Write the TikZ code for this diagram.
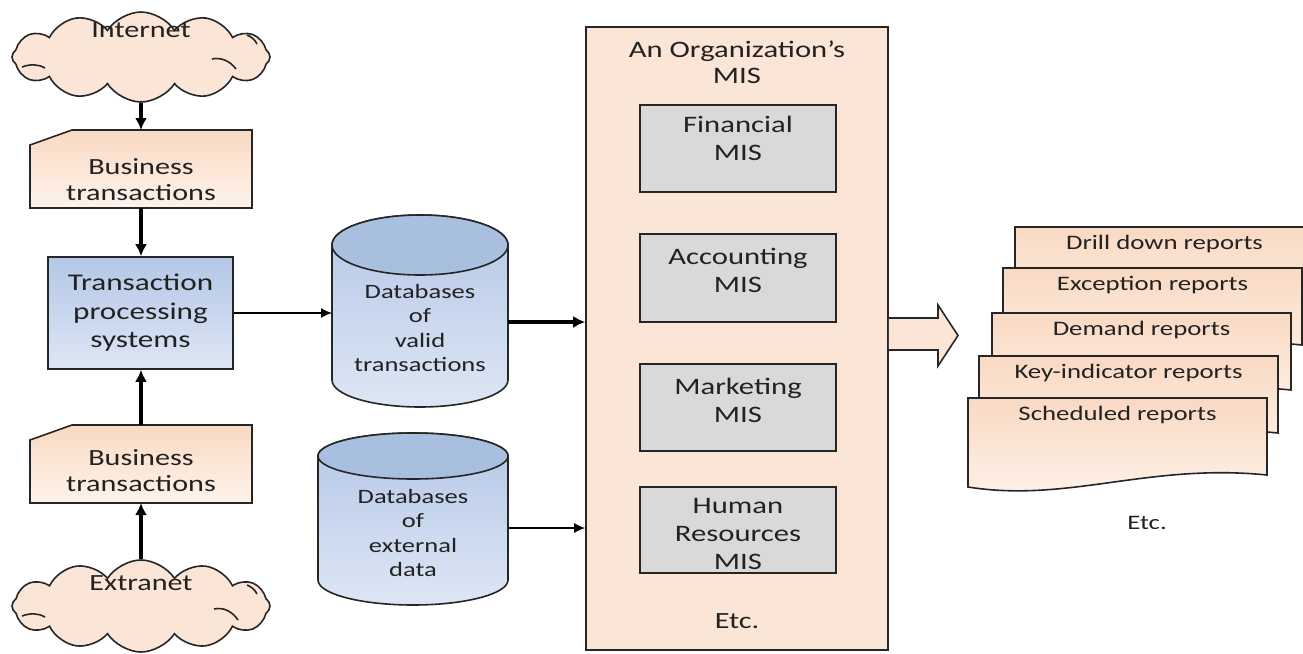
\documentclass[tikz,border=0pt]{standalone}
\usepackage{fontspec}
\setmainfont{Carlito}[FakeStretch=1.3]
\usetikzlibrary{shapes.symbols,arrows.meta,calc}
\definecolor{peach}{HTML}{FBE5D6}
\definecolor{peachd}{HTML}{F9D9C2}
\definecolor{peachl}{HTML}{FEF3EB}
\definecolor{blued}{HTML}{B4C7E7}
\definecolor{bluel}{HTML}{DDE6F4}
\definecolor{bluetop}{HTML}{A9BFDF}
\definecolor{grayb}{HTML}{D9D9D9}
\definecolor{ln}{HTML}{262626}
\definecolor{tx}{HTML}{222222}
\tikzset{
  txt/.style={align=center, inner sep=0pt, text=tx, font=\fontsize{11.6}{13}\selectfont},
  mtxt/.style={align=center, inner sep=0pt, text=tx, font=\fontsize{11.8}{14}\selectfont},
  dtxt/.style={align=center, inner sep=0pt, text=tx, font=\fontsize{10.2}{12.1}\selectfont},
  rtxt/.style={inner sep=0pt, text=tx, font=\fontsize{10.3}{12}\selectfont},
  cloudsh/.style={cloud, cloud puffs=12, cloud puff arc=115, aspect=2.8, draw=ln, line width=0.8pt, fill=peach, inner sep=0pt},
  cloudarc/.style={draw=ln, line width=0.8pt},
  cardsty/.style={draw=ln, line width=0.8pt, top color=peachd, bottom color=peachl},
  boxsty/.style={draw=ln, line width=0.8pt},
  thickarrow/.style={line width=1.8pt, draw=black, -{Latex[length=6pt,width=6pt]}},
  thinarrow/.style={line width=0.7pt, draw=black, -{Latex[length=5.5pt,width=5pt]}},
  repsty/.style={draw=ln, line width=0.8pt, top color=peachd, bottom color=peachl},
  ghost/.style={inner sep=0pt, outer sep=0pt}
}
\newcommand\reportdoc[4]{%
  \path[repsty] (#2,-#3) -- ({#2+299},-#3) -- ({#2+299},{-#3-77})
    .. controls ({#2+180},{-#3-65}) and ({#2+100},{-#3-105}) .. ({#2},{-#3-89}) -- cycle;
  \node[rtxt] (#1) at ({#2+149.5},{-#3-17.5}) {#4};}
\begin{document}
\begin{tikzpicture}[x=0.5pt,y=0.5pt]
\useasboundingbox (0,0) rectangle (1303,-654);
\fill[white] (0,0) rectangle (1303,-654);

% clouds
\node[cloudsh, minimum width=129pt, minimum height=45pt] (inet) at (141,-57) {};
\draw[cloudarc] (22,-67) .. controls (30,-64) and (38,-64) .. (45,-68);
\draw[cloudarc] (212,-59) .. controls (221,-57) and (230,-61) .. (236,-69);
\draw[cloudarc] (247,-35) .. controls (252,-37) and (255,-40) .. (257,-44);
\node[txt] (inett) at (141,-30) {Internet};
\node[cloudsh, minimum width=129pt, minimum height=46pt] (ext) at (141,-606) {};
\draw[cloudarc] (22,-616) .. controls (30,-613) and (38,-613) .. (45,-617);
\draw[cloudarc] (214,-609) .. controls (223,-607) and (232,-611) .. (238,-620);
\draw[cloudarc] (247,-585) .. controls (252,-587) and (255,-590) .. (257,-594);
\node[txt] (extt) at (141,-583) {Extranet};

% business transactions cards
\node[ghost, minimum width=111pt, minimum height=39pt] (bt1) at (141,-169) {};
\path[cardsty] (bt1.south west) -- ([yshift=-7.5pt]bt1.north west) -- ([xshift=21pt]bt1.north west) -- (bt1.north east) -- (bt1.south east) -- cycle;
\node[txt] (bt1t) at (141,-180) {Business\\transactions};
\node[ghost, minimum width=111pt, minimum height=39pt] (bt2) at (141,-464) {};
\path[cardsty] (bt2.south west) -- ([yshift=-7.5pt]bt2.north west) -- ([xshift=21pt]bt2.north west) -- (bt2.north east) -- (bt2.south east) -- cycle;
\node[txt] (bt2t) at (141,-471) {Business\\transactions};

% TPS
\node[boxsty, top color=blued, bottom color=bluel, minimum width=92.5pt, minimum height=56pt, inner sep=0pt, align=center, text=tx, font=\fontsize{12}{14.25}\selectfont] (tps) at (140.5,-313) {Transaction\\processing\\systems};

% databases
\node[ghost, minimum width=88pt, minimum height=96pt] (db1) at (420,-311) {};
\path[draw=ln, line width=0.8pt, top color=blued, bottom color=bluel] (332,-245) -- (332,-380) arc[start angle=180, end angle=360, x radius=44pt, y radius=13.5pt] -- (508,-245) arc[start angle=0, end angle=180, x radius=44pt, y radius=15pt] -- cycle;
\draw[ln, line width=0.8pt, fill=bluetop] (420,-245) ellipse[x radius=44pt, y radius=15pt];
\node[dtxt] (db1t) at (420,-328) {Databases\\of\\valid\\transactions};

\node[ghost, minimum width=95pt, minimum height=86pt] (db2) at (413,-519) {};
\path[draw=ln, line width=0.8pt, top color=blued, bottom color=bluel] (318,-456) -- (318,-580) arc[start angle=180, end angle=360, x radius=47.5pt, y radius=12.5pt] -- (508,-456) arc[start angle=0, end angle=180, x radius=47.5pt, y radius=11.5pt] -- cycle;
\draw[ln, line width=0.8pt, fill=bluetop] (413,-456) ellipse[x radius=47.5pt, y radius=11.5pt];
\node[dtxt] (db2t) at (413,-533) {Databases\\of\\external\\data};

% MIS
\node[boxsty, fill=peach, minimum width=151pt, minimum height=311.5pt, inner sep=0pt] (mis) at (737,-338.5) {};
\node[mtxt, font=\fontsize{11.8}{13}\selectfont] (mist) at (737,-62) {An Organization’s\\MIS};
\node[boxsty, fill=grayb, minimum width=98pt, minimum height=43.5pt] (fin) at (738,-148.5) {};
\node[mtxt] (fint) at (738,-138.5) {Financial\\MIS};
\node[boxsty, fill=grayb, minimum width=98pt, minimum height=44pt] (acc) at (738,-278) {};
\node[mtxt] (acct) at (738,-270) {Accounting\\MIS};
\node[boxsty, fill=grayb, minimum width=98pt, minimum height=43.5pt] (mkt) at (738,-407.5) {};
\node[mtxt] (mktt) at (738,-400) {Marketing\\MIS};
\node[boxsty, fill=grayb, minimum width=98pt, minimum height=43pt] (hr) at (738,-530) {};
\node[mtxt] (hrt) at (738,-534) {Human\\Resources\\MIS};
\node[txt] (misetc) at (737,-621) {Etc.};

% connectors
\draw[thickarrow] (inet.south) -- (inet.south |- bt1.north);
\draw[thickarrow] (bt1.south) -- (bt1.south |- tps.north);
\draw[thickarrow] (bt2.north) -- (bt2.north |- tps.south);
\draw[thickarrow] (ext.north) -- (ext.north |- bt2.south);
\draw[thinarrow] (tps.east) -- (tps.east -| db1.west);
\draw[thickarrow] ([yshift=-5.5pt]db1.east) -- ([yshift=-5.5pt]db1.east -| mis.west);
\draw[thinarrow] ([yshift=-4.5pt]db2.east) -- ([yshift=-4.5pt]db2.east -| mis.west);

% big arrow
\path[draw=ln, line width=0.8pt, fill=peach] (mis.east |- 0,-318) -- (938,-318) -- (938,-305) -- (958,-335.5) -- (938,-366) -- (938,-350) -- (mis.east |- 0,-350);

% reports
\begin{scope}
\clip (0,0) rectangle (1303,-654);
\reportdoc{r1}{1015}{227}{Drill down reports}
\reportdoc{r2}{1003}{268}{Exception reports}
\reportdoc{r3}{992}{313}{Demand reports}
\reportdoc{r4}{979}{356}{Key-indicator reports}
\reportdoc{r5}{968}{398}{Scheduled reports}
\end{scope}
\node[rtxt] (repetc) at (1147,-523) {Etc.};
\end{tikzpicture}
\end{document}
